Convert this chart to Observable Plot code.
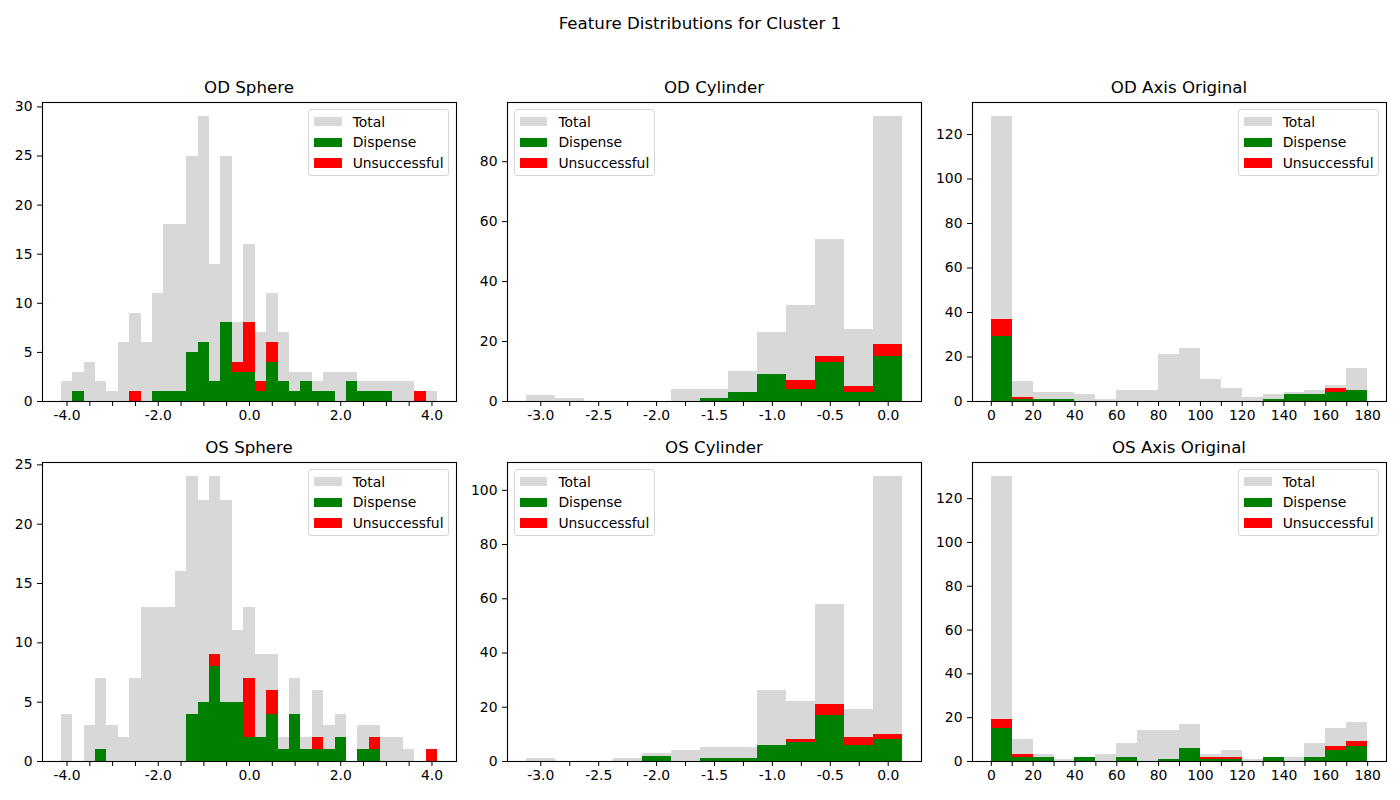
<!DOCTYPE html>
<html>
<head>
<meta charset="utf-8">
<script src="https://cdn.jsdelivr.net/npm/d3@7"></script>
<script src="https://cdn.jsdelivr.net/npm/@observablehq/plot@0.6"></script>
<style>
  body { margin: 0; background: #fff; }
  #fig { position: relative; width: 1400px; height: 800px; overflow: hidden; background: #fff;
         font-family: "DejaVu Sans", sans-serif; color: #000; }
  .ttl { position: absolute; font-size: 16.67px; line-height: 20px; white-space: nowrap;
         transform: translateX(-50%); }
  .leg { position: absolute; box-sizing: border-box; padding: 4.5px; border: 1px solid #d6d6d6;
         border-radius: 3px; background: rgba(255,255,255,0.8); font-size: 13.9px; white-space: nowrap; }
  .leg .row { display: flex; align-items: center; height: 14px; }
  .leg .row + .row { margin-top: 6.9px; }
  .leg .sw { width: 27.8px; height: 9.7px; margin-right: 11.1px; flex: none; }
  .panel { position: absolute; }
  .panel svg { max-width: none !important; }
</style>
</head>
<body>
<div id="fig"></div>
<script>
// ---------------- data ----------------
const suptitle = "Feature Distributions for Cluster 1";
const seriesNames = ["Total", "Dispense", "Unsuccessful"];
const seriesColors = ["#d8d8d8", "#008000", "#ff0000"];

// bin centers
const sphereBins = [-4.0,-3.75,-3.5,-3.25,-3.0,-2.75,-2.5,-2.25,-2.0,-1.75,-1.5,-1.25,-1.0,-0.75,-0.5,-0.25,
                    0.0,0.25,0.5,0.75,1.0,1.25,1.5,1.75,2.0,2.25,2.5,2.75,3.0,3.25,3.5,3.75,4.0];
const sphereBinWidth = 0.25;
const cylinderBins = [-3.0,-2.75,-2.5,-2.25,-2.0,-1.75,-1.5,-1.25,-1.0,-0.75,-0.5,-0.25,0.0];
const cylinderBinWidth = 0.25;
const axisBins = [5,15,25,35,45,55,65,75,85,95,105,115,125,135,145,155,165,175];
const axisBinWidth = 10;

// OD Sphere
const odSphereTotal        = [2,3,4,2,1,6,9,6,11,18,18,25,29,14,25,8,16,7,11,7,3,3,2,3,3,3,2,2,2,2,2,1,1];
const odSphereDispense     = [0,1,0,0,0,0,0,0,1,1,1,5,6,2,8,3,3,1,4,2,1,2,1,1,0,2,1,1,1,0,0,0,0];
const odSphereUnsuccessful = [0,0,0,0,0,0,1,0,0,0,0,0,0,0,0,1,5,1,2,0,0,0,0,0,0,0,0,0,0,0,0,1,0];
// OD Cylinder
const odCylTotal        = [2,1,0,0,0,4,4,10,23,32,54,24,95];
const odCylDispense     = [0,0,0,0,0,0,1,3,9,4,13,3,15];
const odCylUnsuccessful = [0,0,0,0,0,0,0,0,0,3,2,2,4];
// OD Axis Original
const odAxisTotal        = [128,9,4,4,3,1,5,5,21,24,10,6,2,3,4,5,7,15];
const odAxisDispense     = [29,1,1,1,0,0,0,0,0,0,0,0,0,1,3,3,4,5];
const odAxisUnsuccessful = [8,1,0,0,0,0,0,0,0,0,0,0,0,0,0,0,2,0];
// OS Sphere
const osSphereTotal        = [4,0,3,7,3,2,7,13,13,13,16,24,22,24,22,11,13,9,9,2,7,2,6,3,4,0,3,3,2,2,1,0,1];
const osSphereDispense     = [0,0,0,1,0,0,0,0,0,0,0,4,5,8,5,5,2,2,4,1,4,1,1,1,2,0,1,1,0,0,0,0,0];
const osSphereUnsuccessful = [0,0,0,0,0,0,0,0,0,0,0,0,0,1,0,0,5,0,2,0,0,0,1,0,0,0,0,1,0,0,0,0,1];
// OS Cylinder
const osCylTotal        = [1,0,0,1,3,4,5,5,26,22,58,19,105];
const osCylDispense     = [0,0,0,0,2,0,1,1,6,7,17,6,8];
const osCylUnsuccessful = [0,0,0,0,0,0,0,0,0,1,4,3,2];
// OS Axis Original
const osAxisTotal        = [130,10,3,1,2,3,8,14,14,17,3,5,1,2,2,8,15,18];
const osAxisDispense     = [15,2,2,0,2,0,2,0,1,6,1,1,0,2,0,2,5,7];
const osAxisUnsuccessful = [4,1,0,0,0,0,0,0,0,0,1,1,0,0,0,0,2,2];

// ticks
const sphereXTicks = [-4,-3.5,-3,-2.5,-2,-1.5,-1,-0.5,0,0.5,1,1.5,2,2.5,3,3.5,4];
const sphereXLabelStep = 2;
const cylXTicks = [-3,-2.75,-2.5,-2.25,-2,-1.75,-1.5,-1.25,-1,-0.75,-0.5,-0.25,0];
const cylXLabelStep = 0.5;
const axisXTicks = [0,10,20,30,40,50,60,70,80,90,100,110,120,130,140,150,160,170,180];
const axisXLabelStep = 20;
const odSphereYTicks = [0,5,10,15,20,25,30];
const osSphereYTicks = [0,5,10,15,20,25];
const odCylYTicks = [0,20,40,60,80];
const osCylYTicks = [0,20,40,60,80,100];
const axisYTicks = [0,20,40,60,80,100,120];

// ---------------- layout ----------------
const colLeft = [42, 507, 972];
const rowTop = [102, 462];
const AW = 414, AH = 299;
const ML = 50, MR = 12, MT = 10, MB = 34;

const panels = [
  {title:"OD Sphere", r:0, c:0, bins:sphereBins, bw:sphereBinWidth, total:odSphereTotal, disp:odSphereDispense, uns:odSphereUnsuccessful,
   xt:sphereXTicks, step:sphereXLabelStep, dec:1, yt:odSphereYTicks, leg:"right"},
  {title:"OD Cylinder", r:0, c:1, bins:cylinderBins, bw:cylinderBinWidth, total:odCylTotal, disp:odCylDispense, uns:odCylUnsuccessful,
   xt:cylXTicks, step:cylXLabelStep, dec:1, yt:odCylYTicks, leg:"left"},
  {title:"OD Axis Original", r:0, c:2, bins:axisBins, bw:axisBinWidth, total:odAxisTotal, disp:odAxisDispense, uns:odAxisUnsuccessful,
   xt:axisXTicks, step:axisXLabelStep, dec:0, yt:axisYTicks, leg:"right"},
  {title:"OS Sphere", r:1, c:0, bins:sphereBins, bw:sphereBinWidth, total:osSphereTotal, disp:osSphereDispense, uns:osSphereUnsuccessful,
   xt:sphereXTicks, step:sphereXLabelStep, dec:1, yt:osSphereYTicks, leg:"right"},
  {title:"OS Cylinder", r:1, c:1, bins:cylinderBins, bw:cylinderBinWidth, total:osCylTotal, disp:osCylDispense, uns:osCylUnsuccessful,
   xt:cylXTicks, step:cylXLabelStep, dec:1, yt:osCylYTicks, leg:"left"},
  {title:"OS Axis Original", r:1, c:2, bins:axisBins, bw:axisBinWidth, total:osAxisTotal, disp:osAxisDispense, uns:osAxisUnsuccessful,
   xt:axisXTicks, step:axisXLabelStep, dec:0, yt:axisYTicks, leg:"right"}
];

const fig = document.getElementById("fig");

const st = document.createElement("div");
st.className = "ttl";
st.textContent = suptitle;
st.style.left = "700px";
st.style.top = "14px";
fig.appendChild(st);

function makePanel(p) {
  const rows = p.bins.map((b, i) => ({
    x1: b - p.bw / 2, x2: b + p.bw / 2,
    total: p.total[i], d: p.disp[i], u: p.uns[i]
  }));
  const lo = rows[0].x1, hi = rows[rows.length - 1].x2, m = (hi - lo) * 0.05;
  const ymax = d3.max(p.total) * 1.05;
  const fmt = v => {
    const k = v / p.step;
    return Math.abs(k - Math.round(k)) < 1e-9 ? v.toFixed(p.dec) : "";
  };
  const crisp = {shapeRendering: "crispEdges"};
  return Plot.plot({
    width: AW + ML + MR, height: AH + MT + MB,
    marginLeft: ML, marginRight: MR, marginTop: MT, marginBottom: MB,
    x: {domain: [lo - m, hi + m]},
    y: {domain: [0, ymax]},
    style: {fontFamily: "DejaVu Sans", fontSize: "13.9px", color: "#000", background: "transparent", overflow: "visible"},
    marks: [
      Plot.rect(rows.filter(r => r.total > 0), {x1: "x1", x2: "x2", y1: () => 0, y2: "total", fill: seriesColors[0], ...crisp}),
      Plot.rect(rows.filter(r => r.d > 0), {x1: "x1", x2: "x2", y1: () => 0, y2: "d", fill: seriesColors[1], ...crisp}),
      Plot.rect(rows.filter(r => r.u > 0), {x1: "x1", x2: "x2", y1: "d", y2: r => r.d + r.u, fill: seriesColors[2], ...crisp}),
      Plot.axisX({ticks: p.xt, tickFormat: fmt, tickSize: 5, tickPadding: 4, label: null}),
      Plot.axisY({ticks: p.yt, tickFormat: d => String(d), tickSize: 5, tickPadding: 5, label: null}),
      Plot.frame({stroke: "#000", strokeWidth: 1.1})
    ]
  });
}

for (const p of panels) {
  const axL = colLeft[p.c], axT = rowTop[p.r];
  const wrap = document.createElement("div");
  wrap.className = "panel";
  wrap.style.left = (axL - ML) + "px";
  wrap.style.top = (axT - MT) + "px";
  wrap.style.width = (AW + ML + MR) + "px";
  wrap.appendChild(makePanel(p));
  fig.appendChild(wrap);

  const t = document.createElement("div");
  t.className = "ttl";
  t.textContent = p.title;
  t.style.left = (axL + AW / 2) + "px";
  t.style.top = (axT - 24) + "px";
  fig.appendChild(t);

  const leg = document.createElement("div");
  leg.className = "leg";
  leg.style.top = (axT + 7) + "px";
  if (p.leg === "right") leg.style.right = (1400 - (axL + AW - 7)) + "px";
  else leg.style.left = (axL + 7) + "px";
  seriesNames.forEach((n, i) => {
    const row = document.createElement("div");
    row.className = "row";
    const sw = document.createElement("div");
    sw.className = "sw";
    sw.style.background = seriesColors[i];
    const lab = document.createElement("span");
    lab.textContent = n;
    row.appendChild(sw);
    row.appendChild(lab);
    leg.appendChild(row);
  });
  fig.appendChild(leg);
}
</script>
</body>
</html>
